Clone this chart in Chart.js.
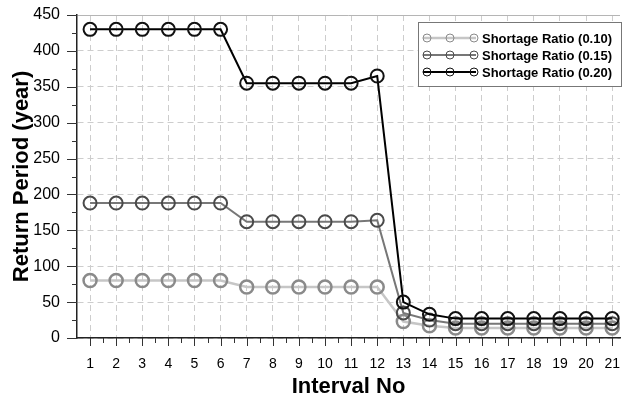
<!DOCTYPE html>
<html>
<head>
<meta charset="utf-8">
<script src="https://cdn.jsdelivr.net/npm/chart.js@4.4.1/dist/chart.umd.min.js"></script>
<style>
  html, body { margin: 0; padding: 0; background: #fff; }
  #wrap { width: 623px; height: 398px; }
</style>
</head>
<body>
<div id="wrap"><canvas id="returnChart"></canvas></div>
<script>
// Interval numbers on the x axis
var intervals = [1,2,3,4,5,6,7,8,9,10,11,12,13,14,15,16,17,18,19,20,21];

// Return period (year) per shortage ratio
var ratio010 = [80,80,80,80,80,80,71,71,71,71,71,71,23,17,14,14,14,14,14,14,14];
var ratio015 = [188,188,188,188,188,188,162,162,162,162,162,164,35,25,20,20,20,20,20,20,20];
var ratio020 = [430,430,430,430,430,430,355,355,355,355,355,365,50,33,27,27,27,27,27,27,27];

var seriesLabels = ['Shortage Ratio (0.10)', 'Shortage Ratio (0.15)', 'Shortage Ratio (0.20)'];

var FONT = "'Liberation Sans', Arial, sans-serif";

function toPoints(values) {
    return intervals.map(function(x, i) { return { x: x, y: values[i] }; });
}

// small tick marks on both axes + legend box like the original plot
var decorPlugin = {
    id: 'decor',
    afterDraw: function(chart) {
        var ctx = chart.ctx;
        var xs = chart.scales.x;
        var ys = chart.scales.y;
        var area = chart.chartArea;
        ctx.save();
        ctx.strokeStyle = '#333';
        ctx.lineWidth = 1;

        // x axis ticks (long on integers, short in between)
        for (var v = 1; v <= 21; v += 0.5) {
            var px = Math.round(xs.getPixelForValue(v)) + 0.5;
            var len = (v % 1 === 0) ? 8 : 5;
            ctx.beginPath();
            ctx.moveTo(px, area.bottom);
            ctx.lineTo(px, area.bottom + len);
            ctx.stroke();
        }
        // y axis ticks (long every 50, short every 25)
        for (var t = 0; t <= 450; t += 25) {
            var py = Math.round(ys.getPixelForValue(t)) + 0.5;
            var l = (t % 50 === 0) ? 10 : 5;
            ctx.beginPath();
            ctx.moveTo(area.left - l, py);
            ctx.lineTo(area.left, py);
            ctx.stroke();
        }

        // legend
        var bx = 418, by = 22, bw = 203, bh = 64;
        ctx.fillStyle = '#fff';
        ctx.fillRect(bx, by, bw, bh);
        ctx.strokeStyle = '#777';
        ctx.strokeRect(bx + 0.5, by + 0.5, bw, bh);
        var rows = [38, 55, 72];
        chart.data.datasets.forEach(function(ds, i) {
            var ry = rows[i];
            ctx.strokeStyle = ds.borderColor;
            ctx.lineWidth = ds.borderWidth;
            ctx.beginPath();
            ctx.moveTo(423, ry);
            ctx.lineTo(476, ry);
            ctx.stroke();
            ctx.strokeStyle = ds.pointBorderColor;
            ctx.lineWidth = 1;
            [427, 450, 474].forEach(function(cx) {
                ctx.beginPath();
                ctx.arc(cx, ry, 4, 0, Math.PI * 2);
                ctx.stroke();
            });
            ctx.fillStyle = '#000';
            ctx.font = 'bold 13px ' + FONT;
            ctx.textAlign = 'left';
            ctx.textBaseline = 'middle';
            ctx.fillText(ds.label, 482, ry + 1);
        });
        ctx.restore();
    }
};

var gridDash = function(c) {
    if (c.tick && c.tick.value === 450) return [];
    return [6, 4];
};

var chartCtx = document.getElementById('returnChart').getContext('2d');
var returnChart = new Chart(chartCtx, {
    type: 'line',
    data: {
        datasets: [{
            label: seriesLabels[0],
            data: toPoints(ratio010),
            borderColor: '#c6c6c6',
            borderWidth: 2.5,
            pointBorderColor: '#8a8a8a',
            order: 3
        }, {
            label: seriesLabels[1],
            data: toPoints(ratio015),
            borderColor: '#777',
            borderWidth: 2,
            pointBorderColor: '#4a4a4a',
            order: 2
        }, {
            label: seriesLabels[2],
            data: toPoints(ratio020),
            borderColor: '#000',
            borderWidth: 2,
            pointBorderColor: '#111',
            order: 1
        }]
    },
    options: {
        responsive: true,
        maintainAspectRatio: false,
        animation: false,
        layout: { autoPadding: false, padding: { top: 15, right: 3, left: 0, bottom: 0 } },
        elements: {
            line: { tension: 0, fill: false },
            point: { radius: 6.5, borderWidth: 1, backgroundColor: 'rgba(0,0,0,0)' }
        },
        scales: {
            x: {
                type: 'linear',
                min: 0.5,
                max: 21.3,
                afterBuildTicks: function(scale) {
                    scale.ticks = intervals.map(function(v) { return { value: v }; });
                },
                afterFit: function(scale) {
                    scale.height = 60;
                    scale.paddingLeft = 0;
                    scale.paddingRight = 0;
                },
                grid: { color: '#cdcdcd', lineWidth: 1, drawTicks: false },
                border: { display: true, color: '#222', width: 1.5, dash: gridDash },
                ticks: { color: '#000', font: { family: FONT, size: 14 }, padding: 18, maxRotation: 0, autoSkip: false },
                title: {
                    display: true,
                    text: 'Interval No',
                    color: '#000',
                    font: { family: FONT, size: 22, weight: 'bold', lineHeight: 1 },
                    padding: { top: 0, bottom: 0 }
                }
            },
            y: {
                min: 0,
                max: 450,
                afterFit: function(scale) {
                    scale.width = 77;
                    scale.paddingTop = 0;
                    scale.paddingBottom = 0;
                },
                grid: {
                    color: function(c) { return (c.tick && c.tick.value === 450) ? '#b5b5b5' : '#cdcdcd'; },
                    lineWidth: 1,
                    drawTicks: false
                },
                border: { display: true, color: '#222', width: 1.5, dash: gridDash },
                ticks: {
                    stepSize: 25,
                    color: '#000',
                    font: { family: FONT, size: 16 },
                    padding: 17,
                    callback: function(v) { return v % 50 === 0 ? v : ''; }
                },
                title: {
                    display: true,
                    text: 'Return Period (year)',
                    color: '#000',
                    font: { family: FONT, size: 22, weight: 'bold', lineHeight: 1 },
                    padding: { top: 11, bottom: 0 }
                }
            }
        },
        plugins: {
            legend: { display: false },
            tooltip: { enabled: false }
        }
    },
    plugins: [decorPlugin]
});
</script>
</body>
</html>
